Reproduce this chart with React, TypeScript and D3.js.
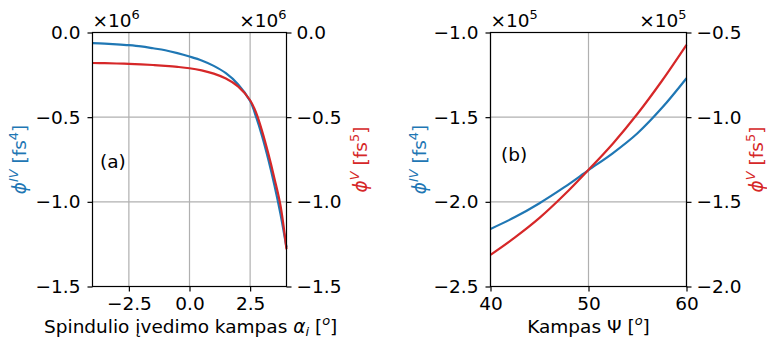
import { useEffect, useRef } from "react";
import * as d3 from "d3";

// panel (a): incidence angle alpha_i [deg], values x1e6
const alphaAngles = [-4, -3.5, -3, -2.5, -2, -1.5, -1, -0.5, 0, 0.5, 1, 1.5, 2, 2.5, 2.75, 3, 3.25, 3.5, 3.75, 4];
const alphaPhi4 = [-0.063, -0.066, -0.07, -0.075, -0.082, -0.093, -0.105, -0.122, -0.142, -0.165, -0.197, -0.24, -0.305, -0.405, -0.5, -0.615, -0.75, -0.9, -1.07, -1.27];
const alphaPhi5 = [-0.18, -0.181, -0.183, -0.185, -0.188, -0.192, -0.197, -0.203, -0.211, -0.224, -0.243, -0.272, -0.318, -0.4, -0.475, -0.585, -0.715, -0.86, -1.02, -1.28];

// panel (b): angle Psi [deg], values x1e5
const psiAngles = [40, 42.5, 45, 47.5, 50, 52.5, 55, 57.5, 60];
const psiPhi4 = [-2.16, -2.09, -2.008, -1.915, -1.813, -1.712, -1.595, -1.445, -1.27];
const psiPhi5 = [-1.813, -1.71, -1.595, -1.46, -1.311, -1.155, -0.98, -0.785, -0.573];

const aXTicks = [-2.5, 0, 2.5];
const aYTicks = [0, -0.5, -1.0, -1.5];
const bXTicks = [40, 50, 60];
const bYLeftTicks = [-1.0, -1.5, -2.0, -2.5];
const bYRightTicks = [-0.5, -1.0, -1.5, -2.0];

const FONT = "'DejaVu Sans', sans-serif";
const FS = 18.5;
const SUP = FS * 0.7;
const BLUE = "#1f77b4";
const RED = "#d62728";
const W = 767, H = 338;
const TOP = 32.5, BOTTOM = 286.5;

type Panel = {
  left: number; right: number;
  xDomain: [number, number]; xTicks: number[]; xFmt: (d: number) => string;
  yL: [number, number]; yLTicks: number[];
  yR: [number, number]; yRTicks: number[];
  xs: number[]; blue: number[]; red: number[];
  exp: string; tag: string; tagX: number; tagY: number;
  ylabL: number; ylabR: number; xlabel: "alpha" | "psi";
};

function drawPanel(svg: d3.Selection<SVGSVGElement, unknown, null, undefined>, p: Panel) {
  const x = d3.scaleLinear().domain(p.xDomain).range([p.left, p.right]);
  const yl = d3.scaleLinear().domain(p.yL).range([BOTTOM, TOP]);
  const yr = d3.scaleLinear().domain(p.yR).range([BOTTOM, TOP]);
  const g = svg.append("g");

  // grid
  g.selectAll(".gx").data(p.xTicks).join("line")
    .attr("x1", d => x(d)).attr("x2", d => x(d)).attr("y1", TOP).attr("y2", BOTTOM)
    .attr("stroke", "#b0b0b0").attr("stroke-width", 1.2);
  g.selectAll(".gy").data(p.yLTicks).join("line")
    .attr("y1", d => yl(d)).attr("y2", d => yl(d)).attr("x1", p.left).attr("x2", p.right)
    .attr("stroke", "#b0b0b0").attr("stroke-width", 1.2);

  const line = (ys: number[], yS: d3.ScaleLinear<number, number>) =>
    d3.line<number>().x((_, i) => x(p.xs[i])).y(d => yS(d)).curve(d3.curveCatmullRom.alpha(0.5))(ys);

  g.append("path").attr("d", line(p.blue, yl)!).attr("fill", "none").attr("stroke", BLUE).attr("stroke-width", 2.2);
  g.append("path").attr("d", line(p.red, yr)!).attr("fill", "none").attr("stroke", RED).attr("stroke-width", 2.2);

  const style = (ax: d3.Selection<SVGGElement, unknown, null, undefined>) => {
    ax.select(".domain").remove();
    ax.selectAll("line").attr("stroke", "#000").attr("stroke-width", 1.2);
    ax.selectAll("text").attr("font-family", FONT).attr("font-size", FS).attr("fill", "#000");
  };
  const fmt = d3.format(".1f");
  g.append("g").attr("transform", `translate(0,${BOTTOM})`)
    .call(d3.axisBottom(x).tickValues(p.xTicks).tickFormat(d => p.xFmt(+d)).tickSize(5).tickPadding(5))
    .call(style);
  g.append("g").attr("transform", `translate(${p.left},0)`)
    .call(d3.axisLeft(yl).tickValues(p.yLTicks).tickFormat(d => fmt(+d)).tickSize(5).tickPadding(7))
    .call(style);
  g.append("g").attr("transform", `translate(${p.right},0)`)
    .call(d3.axisRight(yr).tickValues(p.yRTicks).tickFormat(d => fmt(+d)).tickSize(5).tickPadding(5))
    .call(style);

  // frame
  g.append("rect").attr("x", p.left).attr("y", TOP).attr("width", p.right - p.left).attr("height", BOTTOM - TOP)
    .attr("fill", "none").attr("stroke", "#000").attr("stroke-width", 1.2);

  const txt = (xx: number, yy: number, anchor = "start") =>
    g.append("text").attr("x", xx).attr("y", yy).attr("text-anchor", anchor)
      .attr("font-family", FONT).attr("font-size", FS);

  // offset texts
  for (const [xx, anchor] of [[p.left, "start"], [p.right, "end"]] as [number, string][]) {
    const t = txt(xx, 26.5, anchor);
    t.append("tspan").text("×10");
    t.append("tspan").attr("dy", -8).attr("font-size", SUP).text(p.exp);
  }

  txt(p.tagX, p.tagY).text(p.tag);

  // x label
  if (p.xlabel === "alpha") {
    const xl = txt(44, 333);
    xl.append("tspan").text("Spindulio įvedimo kampas ");
    xl.append("tspan").attr("font-style", "italic").text("α");
    xl.append("tspan").attr("font-style", "italic").attr("font-size", SUP).attr("dy", 3).text("i");
    xl.append("tspan").attr("dy", -3).text(" [");
    xl.append("tspan").attr("font-style", "italic").attr("font-size", SUP).attr("dy", -8).text("o");
    xl.append("tspan").attr("dy", 8).text("]");
  } else {
    const xl = txt((p.left + p.right) / 2, 333, "middle");
    xl.append("tspan").text("Kampas Ψ [");
    xl.append("tspan").attr("font-style", "italic").attr("font-size", SUP).attr("dy", -8).text("o");
    xl.append("tspan").attr("dy", 8).text("]");
  }

  // y labels
  const ylab = (xx: number, color: string, sup: string, pw: string) => {
    const t = g.append("text").attr("transform", `translate(${xx},${(TOP + BOTTOM) / 2}) rotate(-90)`)
      .attr("text-anchor", "middle").attr("font-family", FONT).attr("font-size", FS).attr("fill", color);
    t.append("tspan").attr("font-style", "italic").text("ϕ");
    t.append("tspan").attr("font-style", "italic").attr("font-size", SUP).attr("dy", -8).text(sup);
    t.append("tspan").attr("dy", 8).text(" [fs");
    t.append("tspan").attr("font-size", SUP).attr("dy", -8).text(pw);
    t.append("tspan").attr("dy", 8).text("]");
  };
  ylab(p.ylabL, BLUE, "IV", "4");
  ylab(p.ylabR, RED, "V", "5");
}

export default function App() {
  const ref = useRef<SVGSVGElement>(null);
  useEffect(() => {
    const svg = d3.select(ref.current!);
    svg.selectAll("*").remove();
    drawPanel(svg, {
      left: 92.5, right: 286.5, xDomain: [-4, 4], xTicks: aXTicks, xFmt: d3.format(".1f"),
      yL: [-1.5, 0], yLTicks: aYTicks, yR: [-1.5, 0], yRTicks: aYTicks,
      xs: alphaAngles, blue: alphaPhi4, red: alphaPhi5,
      exp: "6", tag: "(a)", tagX: 100, tagY: 168, ylabL: 26, ylabR: 367, xlabel: "alpha",
    });
    drawPanel(svg, {
      left: 490.5, right: 686.5, xDomain: [40, 60], xTicks: bXTicks, xFmt: d3.format("d"),
      yL: [-2.5, -1.0], yLTicks: bYLeftTicks, yR: [-2.0, -0.5], yRTicks: bYRightTicks,
      xs: psiAngles, blue: psiPhi4, red: psiPhi5,
      exp: "5", tag: "(b)", tagX: 501, tagY: 161, ylabL: 426, ylabR: 763, xlabel: "psi",
    });
  }, []);
  return (
    <svg ref={ref} width={W} height={H}
      style={{ position: "absolute", left: 0, top: 0, background: "#fff" }} />
  );
}
